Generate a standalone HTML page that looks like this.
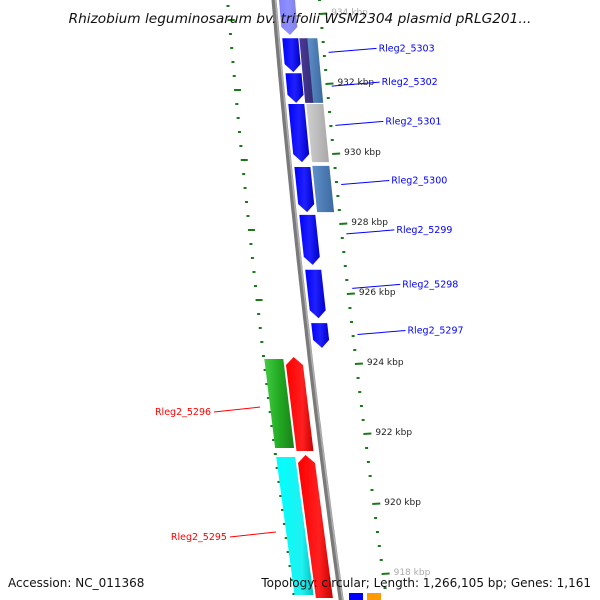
<!DOCTYPE html>
<html><head><meta charset="utf-8"><style>
html,body{margin:0;padding:0;background:#fff;}
svg{display:block;font-family:"DejaVu Sans","Liberation Sans",sans-serif;}
</style></head><body>
<svg id="map" width="600" height="600" viewBox="0 0 600 600">
<defs>
<linearGradient id="gBlue" x1="0" x2="1"><stop offset="0" stop-color="#0000ff"/><stop offset="0.5" stop-color="#2020ff"/><stop offset="1" stop-color="#0000c8"/></linearGradient>
<linearGradient id="gRed" x1="0" x2="1"><stop offset="0" stop-color="#ff0000"/><stop offset="0.6" stop-color="#ff2020"/><stop offset="1" stop-color="#c80000"/></linearGradient>
<linearGradient id="gGreen" x1="0" x2="1"><stop offset="0" stop-color="#44cc44"/><stop offset="0.5" stop-color="#22aa22"/><stop offset="1" stop-color="#1a801a"/></linearGradient>
<linearGradient id="gCyan" x1="0" x2="1"><stop offset="0" stop-color="#00ffff"/><stop offset="0.7" stop-color="#20f0f0"/><stop offset="1" stop-color="#00c0c0"/></linearGradient>
<linearGradient id="gSteel" x1="0" x2="1"><stop offset="0" stop-color="#6090c8"/><stop offset="1" stop-color="#3a6aa0"/></linearGradient>
<linearGradient id="gPurple" x1="0" x2="1"><stop offset="0" stop-color="#4a3a9a"/><stop offset="1" stop-color="#332a70"/></linearGradient>
<linearGradient id="gGrey" x1="0" x2="1"><stop offset="0" stop-color="#d0d0d0"/><stop offset="1" stop-color="#a8a8a8"/></linearGradient>
</defs>
<g id="layer"></g>
<text x="300" y="23" text-anchor="middle" font-size="13.7" font-style="italic" fill="#111">Rhizobium leguminosarum bv. trifolii WSM2304 plasmid pRLG201...</text>
<text x="8" y="587" font-size="12" fill="#111">Accession: NC_011368</text>
<text x="591" y="587" text-anchor="end" font-size="12" fill="#111">Topology: circular; Length: 1,266,105 bp; Genes: 1,161</text>
</svg>
<script>
// data arrays (kbp)
const fwdStarts = [934.4, 933.31, 932.31, 931.43, 929.63, 928.26, 926.69, 925.17];
const fwdEnds   = [933.4, 932.34, 931.46, 929.77, 928.34, 926.83, 925.31, 924.46];
const fwdNames  = ["", "Rleg2_5303", "Rleg2_5302", "Rleg2_5301", "Rleg2_5300", "Rleg2_5299", "Rleg2_5298", "Rleg2_5297"];
const cogStarts = [933.31, 933.31, 931.43, 929.66];
const cogEnds   = [931.46, 931.46, 929.77, 928.34];
const cogKinds  = ["purple", "steel", "grey", "steel"];
const revStarts = [924.2, 921.4];
const revEnds   = [921.6, 917.4];
const revNames  = ["Rleg2_5296", "Rleg2_5295"];
const revCogKinds = ["green", "cyan"];
const tickLabels = [934, 932, 930, 928, 926, 924, 922, 920, 918];

const NS="http://www.w3.org/2000/svg";
const layer=document.getElementById('layer');
function yOf(k){return 84+(932-k)*35;}
function bx(y){return 274+0.085*y+0.000045*y*y;}
function mk(tag,attrs){const e=document.createElementNS(NS,tag);for(const a in attrs)e.setAttribute(a,attrs[a]);layer.appendChild(e);return e;}
function poly(y1,y2,o1,o2,head,fill){
  const pts=[];const h=8;
  if(head===1){
    const yb=y2-h;
    pts.push([bx(y1)+o1,y1],[bx(y1)+o2,y1],[bx(yb)+o2,yb],[bx(y2)+(o1+o2)/2,y2],[bx(yb)+o1,yb]);
  }else if(head===-1){
    const yt=y1+h;
    pts.push([bx(y1)+(o1+o2)/2,y1],[bx(yt)+o2,yt],[bx(y2)+o2,y2],[bx(y2)+o1,y2],[bx(yt)+o1,yt]);
  }else{
    pts.push([bx(y1)+o1,y1],[bx(y1)+o2,y1],[bx(y2)+o2,y2],[bx(y2)+o1,y2]);
  }
  return mk('polygon',{points:pts.map(p=>p[0].toFixed(1)+','+p[1].toFixed(1)).join(' '),fill:fill});
}
// backbone
let d='';for(let y=-5;y<=605;y+=5){d+=(y===-5?'M':'L')+bx(y).toFixed(1)+','+y;}
const bb=mk('path',{d:d,stroke:'#7a7a7a','stroke-width':5,fill:'none'});


let d2='';for(let y=-5;y<=605;y+=5){d2+=(y===-5?'M':'L')+(bx(y)+1.5).toFixed(1)+','+y;}
const bb2=mk('path',{d:d2,stroke:'#b0b0b0','stroke-width':1.5,fill:'none'});


// ticks
for(let k=917.6;k<=934.6;k+=0.4){
  const kk=Math.round(k*10)/10;const y=yOf(kk);const major=Math.abs(kk-Math.round(kk))<0.01&&Math.round(kk)%2===0;
  const x=bx(y)+44;
  const t=mk('line',{x1:x,y1:y,x2:x+(major?8:3),y2:y+(major?-0.5:0),stroke:'#1a7a1a','stroke-width':2});
  
  
  const yl=y+6;const xl=bx(yl)-48;
  const t2=mk('line',{x1:xl,y1:yl,x2:xl+(major?7:3),y2:yl,stroke:'#1a7a1a','stroke-width':2});
  
  
}
tickLabels.forEach(k=>{const y=yOf(k);const t=mk('text',{x:bx(y)+56,y:y+1,'font-size':9,fill:k===934||k===918?'#aaa':'#222'});t.textContent=k+' kbp';
  
  });
// forward genes
fwdStarts.forEach((s,i)=>{const y1=yOf(s),y2=yOf(fwdEnds[i]);
  const p=poly(y1,y2,5,21,1,'url(#gBlue)');if(i===0)p.setAttribute('opacity','0.5');
  
  
  if(fwdNames[i]){const ym=y1+(y2-y1)*0.3+4;const lx=bx(ym)+50;
    const ln=mk('line',{x1:lx,y1:ym,x2:lx+48,y2:ym-4,stroke:'#0000ff','stroke-width':1});
    
    
    const t=mk('text',{x:lx+50,y:ym-1,'font-size':9.5,fill:'#0000ff'});t.textContent=fwdNames[i];
    
    }
});
// cog track
const cogFill={purple:'url(#gPurple)',steel:'url(#gSteel)',grey:'url(#gGrey)'};
cogStarts.forEach((s,i)=>{const y1=yOf(s),y2=yOf(cogEnds[i]);
  let o1=23,o2=40;if(cogKinds[i]==='purple'){o1=22;o2=31;}else if(i===1){o1=30;o2=40;}
  const p=poly(y1,y2,o1,o2,0,cogFill[cogKinds[i]]);
  
  });
// reverse genes
revStarts.forEach((s,i)=>{const y1=yOf(s),y2=yOf(revEnds[i]);
  const c=poly(y1+2,y2,-46,-27,0,revCogKinds[i]==='green'?'url(#gGreen)':'url(#gCyan)');
  
  
  const p=poly(y1,y2+3,-25,-8,-1,'url(#gRed)');
  
  
  const ym=y1+(y2-y1)*0.55;const lx=bx(ym)-56;
  const ln=mk('line',{x1:lx,y1:ym,x2:lx-46,y2:ym+5,stroke:'#ff0000','stroke-width':1});
  
  
  const t=mk('text',{x:lx-49,y:ym+8,'font-size':9.5,fill:'#ff0000','text-anchor':'end'});t.textContent=revNames[i];
  
  
});
// bottom partial features
const b1=mk('rect',{x:349,y:593,width:14,height:8,fill:'#0000ff'});


const b2=mk('rect',{x:367,y:593,width:14,height:8,fill:'#ff9900'});


</script>
</body></html>
